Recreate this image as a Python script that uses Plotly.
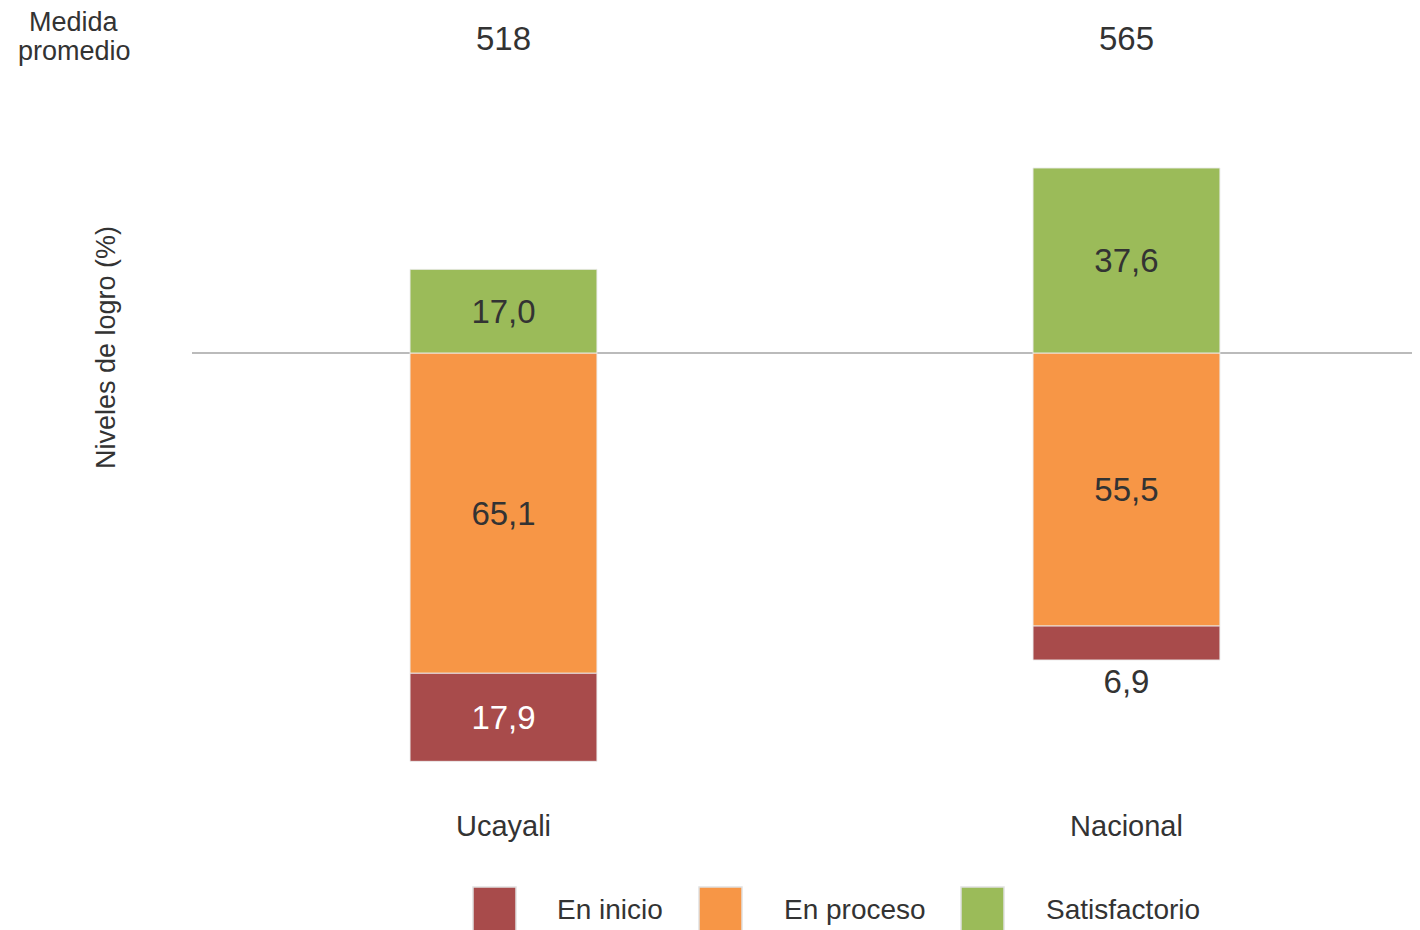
import plotly.graph_objects as go

categories = ["Ucayali", "Nacional"]
en_inicio = [17.9, 6.9]
en_proceso = [65.1, 55.5]
satisfactorio = [17.0, 37.6]
medida_promedio = [518, 565]
series_names = ["En inicio", "En proceso", "Satisfactorio"]
colors = ["#A84B4B", "#F79646", "#9BBB59"]

FONT = "Liberation Sans, Arial, sans-serif"
TXT = "#333333"

fig = go.Figure()
line = dict(color="rgba(235,235,235,0.9)", width=1)

# Order matters for relative stacking: proceso closest to zero, inicio below
fig.add_trace(go.Bar(
    x=categories, y=[-v for v in en_proceso], customdata=en_proceso,
    name=series_names[1], marker=dict(color=colors[1], line=line),
    texttemplate="%{customdata:.1f}", textposition="inside",
    insidetextanchor="middle", textfont=dict(size=33, color=TXT, family=FONT),
    width=0.3, showlegend=False))
fig.add_trace(go.Bar(
    x=categories, y=[-v for v in en_inicio], customdata=en_inicio,
    name=series_names[0], marker=dict(color=colors[0], line=line),
    texttemplate="%{customdata:.1f}",
    textposition=["inside" if v >= 10 else "outside" for v in en_inicio],
    insidetextanchor="middle",
    textfont=dict(size=33, color=["#FFFFFF" if v >= 10 else TXT for v in en_inicio], family=FONT),
    outsidetextfont=dict(size=33, color=TXT, family=FONT),
    cliponaxis=False, width=0.3, showlegend=False))
fig.add_trace(go.Bar(
    x=categories, y=satisfactorio, customdata=satisfactorio,
    name=series_names[2], marker=dict(color=colors[2], line=line),
    texttemplate="%{customdata:.1f}", textposition="inside",
    insidetextanchor="middle", textfont=dict(size=33, color=TXT, family=FONT),
    width=0.3, showlegend=False))

OFF = 8  # page body margin offset
W, H = 1420, 930
L, R, T, B = 192 - OFF, 0, 100 - OFF, 135 + OFF
plot_h = H - T - B
plot_w = W - L - R

def px(xp):
    return (xp - OFF - L) / plot_w

def py(yp):
    return (H - B - (yp - OFF)) / plot_h

annotations = []
# Medida promedio
annotations.append(dict(xref="paper", yref="paper", x=px(74), y=py(22), text="Medida",
                        showarrow=False, font=dict(size=27, color=TXT, family=FONT),
                        xanchor="center", yanchor="middle"))
annotations.append(dict(xref="paper", yref="paper", x=px(74), y=py(51), text="promedio",
                        showarrow=False, font=dict(size=27, color=TXT, family=FONT),
                        xanchor="center", yanchor="middle"))
for c, m in zip(categories, medida_promedio):
    annotations.append(dict(x=c, xref="x", yref="paper", y=py(39), text=str(m),
                            showarrow=False, font=dict(size=33, color=TXT, family=FONT),
                            xanchor="center", yanchor="middle"))
# Y axis title
annotations.append(dict(xref="paper", yref="paper", x=px(106), y=py(347),
                        text="Niveles de logro (%)", textangle=-90, showarrow=False,
                        font=dict(size=27, color=TXT, family=FONT),
                        xanchor="center", yanchor="middle"))

# Custom legend
shapes = []
legend_sq_x = [473, 699, 961]
legend_txt_x = [555, 782, 1044]
for name, col, sx, tx in zip(series_names, colors, legend_sq_x, legend_txt_x):
    shapes.append(dict(type="rect", xref="paper", yref="paper",
                       x0=px(sx), x1=px(sx + 43), y0=py(931), y1=py(887),
                       fillcolor=col, line=dict(color="rgba(225,225,225,1)", width=1.5)))
    annotations.append(dict(xref="paper", yref="paper", x=px(tx), y=py(909), text=name,
                            showarrow=False, font=dict(size=28, color=TXT, family=FONT),
                            xanchor="left", yanchor="middle"))

fig.update_layout(
    width=W, height=H,
    margin=dict(l=L, r=R, t=T, b=B, pad=0),
    barmode="relative",
    separators=",.",
    paper_bgcolor="white", plot_bgcolor="white",
    font=dict(family=FONT, color=TXT),
    showlegend=False,
    uniformtext=dict(mode=False),
    xaxis=dict(range=[-0.5, 1.484], showgrid=False, showline=False, zeroline=False,
               ticks="outside", ticklen=5, tickcolor="rgba(0,0,0,0)",
               tickfont=dict(size=29, color=TXT, family=FONT), fixedrange=True),
    yaxis=dict(range=[-89.84, 51.42], showgrid=False, showticklabels=False,
               zeroline=True, zerolinecolor="#BBBBBB", zerolinewidth=2, showline=False),
    annotations=annotations,
    shapes=shapes,
)

fig.write_html("out.html")
